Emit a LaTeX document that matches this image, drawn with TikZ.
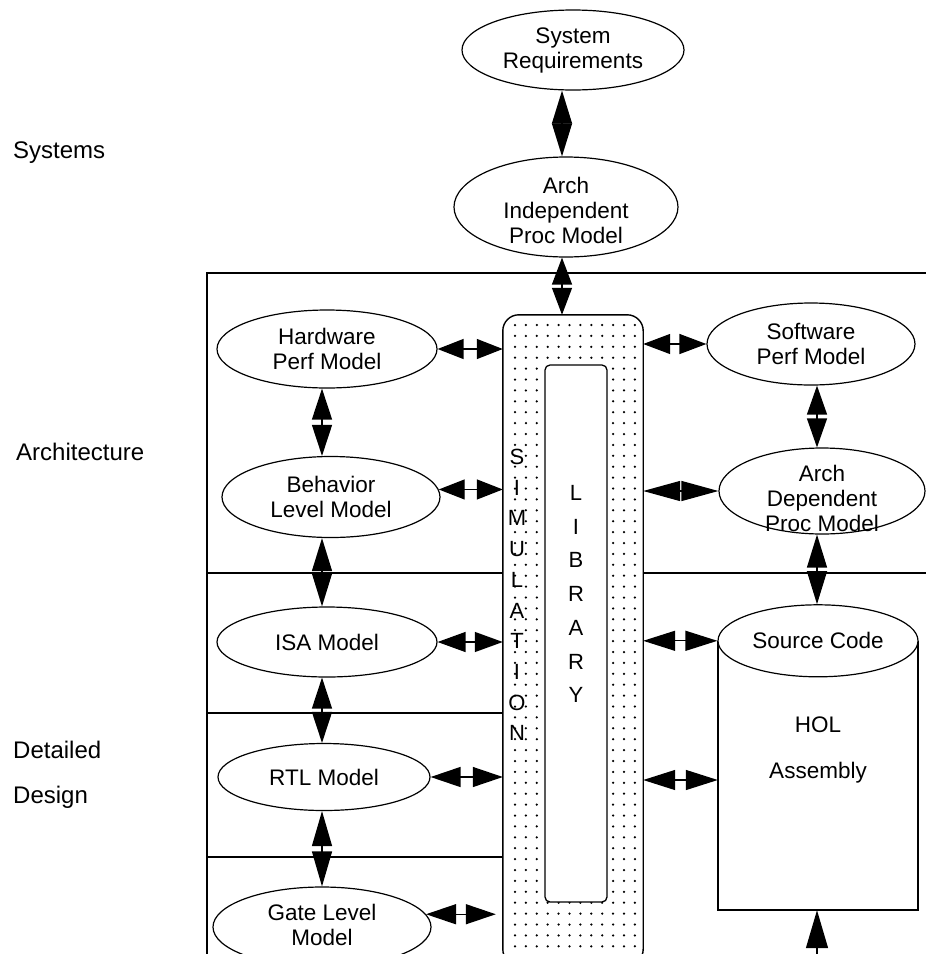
\documentclass[tikz,border=0pt]{standalone}
\usepackage{fontspec}
\setmainfont{Liberation Sans}
\usetikzlibrary{shapes.geometric,arrows.meta}

\begin{document}
\begin{tikzpicture}[x=1pt,y=-1pt,
  every node/.style={font=\fontsize{22.5}{25}\selectfont, align=center, inner sep=0pt},
  oval/.style={ellipse, draw, line width=1.2pt, fill=white},
  frame/.style={line width=1.6pt},
  biarrow/.style={line width=1.3pt,
    {Triangle[length=#1 0,width=20pt 0]}-{Triangle[length=#1 0,width=20pt 0]}},
  biarrow/.default=28pt,
  uparrow/.style={line width=1.3pt, -{Triangle[length=38pt 0,width=22pt 0]}},
  lbl/.style={anchor=west, font=\fontsize{24}{26}\selectfont},
  vletter/.style={font=\fontsize{22}{24}\selectfont}
]
\useasboundingbox (0,0) rectangle (926,954);
\clip (0,0) rectangle (926,954);

% axes shared by the vertical connectors
\coordinate (ax) at (562,0);
\coordinate (lx) at (322,0);
\coordinate (rx) at (817,0);
\coordinate (floor) at (817,954);

% level labels
\node[lbl] (lsys) at (13,153) {Systems};
\node[lbl] (larch) at (16,452) {Architecture};
\node[lbl] (ldet) at (13,750) {Detailed};
\node[lbl] (ldes) at (13,797) {Design};

% simulation column (placed first so the frame lines can refer to it)
\node[minimum width=140pt, minimum height=650pt] (sim) at (573,640) {};

% frame and row separators
\draw[frame] (207,954) -- (207,273) -- (926,273);
\draw[frame] (207,573) -- (sim.west |- 0,573);
\draw[frame] (sim.east |- 0,573) -- (926,573);
\draw[frame] (207,713) -- (sim.west |- 0,713);
\draw[frame] (207,857) -- (sim.west |- 0,857);

% simulation box with dotted fill
\draw[line width=1.4pt, fill=white, rounded corners=16pt]
  (sim.north west) rectangle (sim.south east);
\begin{scope}
  \clip[rounded corners=16pt] (sim.north west) rectangle (sim.south east);
  \foreach \i in {0,...,11}
    \foreach \j in {0,...,59}
      \fill (515+\i*10.9, 325+\j*10.9) circle (1.25pt);
\end{scope}

% library column
\node[draw, fill=white, line width=1.3pt, rounded corners=5pt,
      minimum width=62pt, minimum height=537pt] (lib) at (576,633.5) {};
\foreach \c [count=\k from 0] in {L,I,B,R,A,R,Y}
  \node[vletter] (lib-\k) at (576,493+\k*33.7) {\c};
\foreach \c [count=\k from 0] in {S,I,M,U,L,A,T,I,O,N}
  \node[vletter] (sim-\k) at (517,457+\k*30.7) {\c};

% model ovals
\node[oval, minimum width=222pt, minimum height=80pt] (sysreq) at (573,50) {};
\node (sysreq-t) at (sysreq) {System\\Requirements};
\node[oval, minimum width=224pt, minimum height=100pt] (archind) at (566,207) {};
\node (archind-t) at ([yshift=-3pt]archind) {Arch\\Independent\\Proc Model};
\node[oval, minimum width=220pt, minimum height=78pt] (hwperf) at (327,349) {};
\node (hwperf-t) at (hwperf) {Hardware\\Perf Model};
\node[oval, minimum width=218pt, minimum height=81pt] (behav) at (331,497) {};
\node (behav-t) at (behav) {Behavior\\Level Model};
\node[oval, minimum width=220pt, minimum height=70pt] (isa) at (327,642) {};
\node (isa-t) at (isa) {ISA Model};
\node[oval, minimum width=212pt, minimum height=67pt] (rtl) at (324,777) {};
\node (rtl-t) at (rtl) {RTL Model};
\node[oval, minimum width=218pt, minimum height=80pt] (gate) at (322,927) {};
\node (gate-t) at ([yshift=2pt]gate) {Gate Level\\Model};
\node[oval, minimum width=208pt, minimum height=82pt] (swperf) at (811,344) {};
\node (swperf-t) at (swperf) {Software\\Perf Model};
\node[oval, minimum width=206pt, minimum height=86pt] (archdep) at (822,491) {};
\node (archdep-t) at ([yshift=-7pt]archdep) {Arch\\Dependent\\Proc Model};

% source code store (cylinder)
\node[minimum width=200pt, minimum height=269pt] (hol) at (818,775.5) {};
\draw[frame, fill=white] (hol.north west) -- (hol.south west)
  -- (hol.south east) -- (hol.north east);
\node[oval, minimum width=200pt, minimum height=72pt] (src) at (hol.north) {};
\node (src-t) at (src) {Source Code};
\node (hol-t) at (818,725) {HOL};
\node (asm-t) at (818,773) {Assembly};

% vertical connectors
\draw[biarrow=33pt] (sysreq.south -| ax) -- (archind.north -| ax);
\draw[biarrow=27pt] (archind.south -| ax) -- (sim.north -| ax);
\draw[biarrow=31pt] (hwperf.south -| lx) -- (behav.north -| lx);
\draw[biarrow=33pt] (behav.south -| lx) -- (isa.north -| lx);
\draw[biarrow=31pt] (isa.south -| lx) -- (rtl.north -| lx);
\draw[biarrow=35pt] (rtl.south -| lx) -- (gate.north -| lx);
\draw[biarrow=29pt] (swperf.south -| rx) -- (archdep.north -| rx);
\draw[biarrow=33pt] (archdep.south -| rx) -- (src.north -| rx);
\draw[uparrow] (floor) -- (hol.south -| rx);

% horizontal connectors to the simulation column
\draw[biarrow=26pt] (hwperf.east) -- (hwperf.east -| sim.west);
\draw[biarrow=26pt] (behav.4) -- (behav.4 -| sim.west);
\draw[biarrow=28pt] (isa.east) -- (isa.east -| sim.west);
\draw[biarrow=30pt] (rtl.east) -- (rtl.east -| sim.west);
\draw[biarrow=30pt] (gate.7) -- ([xshift=-7pt]gate.7 -| sim.west);
\draw[biarrow=27pt] (sim.east |- swperf.west) -- (swperf.west);
\draw[biarrow=37pt] (sim.east |- archdep.west) -- (archdep.west);
\draw[biarrow=32pt] (sim.east |- src.west) -- (src.west);
\draw[biarrow=32pt] (sim.east |- 0,780) -- (hol.west |- 0,780);
\end{tikzpicture}
\end{document}
